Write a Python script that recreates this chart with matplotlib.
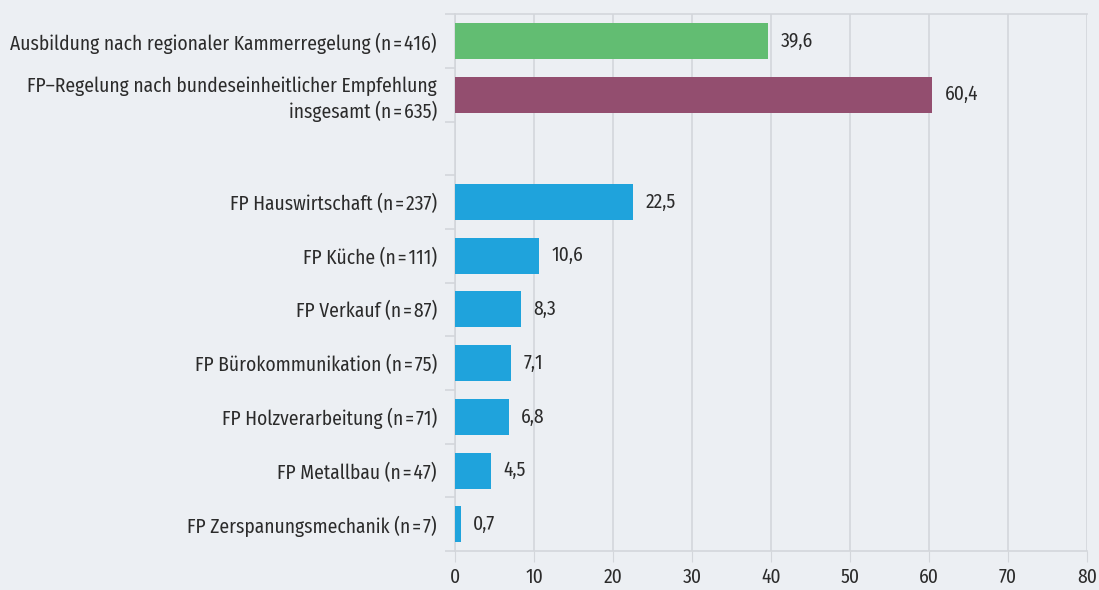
import numpy as np
import matplotlib.pyplot as plt

labels = [
    "Ausbildung nach regionaler Kammerregelung (n\u200a=\u200a416)",
    "FP\u2013Regelung nach bundeseinheitlicher Empfehlung\ninsgesamt (n\u200a=\u200a635)",
    "",
    "FP Hauswirtschaft (n\u200a=\u200a237)",
    "FP Küche (n\u200a=\u200a111)",
    "FP Verkauf (n\u200a=\u200a87)",
    "FP Bürokommunikation (n\u200a=\u200a75)",
    "FP Holzverarbeitung (n\u200a=\u200a71)",
    "FP Metallbau (n\u200a=\u200a47)",
    "FP Zerspanungsmechanik (n\u200a=\u200a7)",
]
values = [39.6, 60.4, None, 22.5, 10.6, 8.3, 7.1, 6.8, 4.5, 0.7]
colors = ["#62bd72", "#934e6f", None] + ["#1fa3dc"] * 7

BG = "#eceff3"
GRID = "#d3d6db"
TXT = "#2b2b2b"
FONT = ["Fira Sans Condensed", "Roboto Condensed", "Roboto", "DejaVu Sans"]
FS = 14

plt.rcParams['font.family'] = FONT

fig = plt.figure(figsize=(10.99, 5.90), dpi=100, facecolor=BG)
ax = fig.add_axes([0.414, 0.066, 0.575, 0.910], facecolor=BG)

for i, (v, c) in enumerate(zip(values, colors)):
    if v is None:
        continue
    ax.barh(i, v, height=0.67, color=c, zorder=3)
    ax.text(v + 1.6, i, ("%.1f" % v).replace(".", ","), va="center", ha="left",
            fontsize=FS, color=TXT)

ax.set_xlim(0, 80)
ax.set_ylim(9.5, -0.5)
ax.set_xticks(np.arange(0, 81, 10))
ax.tick_params(axis="x", length=8, color=GRID, labelsize=FS, labelcolor=TXT, pad=4)
ax.grid(axis="x", color=GRID, linewidth=1.2, zorder=0)

# category labels at centers, boundary ticks between rows
ax.set_yticks(np.arange(10))
ax.set_yticklabels(labels, fontsize=FS, color=TXT, ha="right", linespacing=1.3)
ax.tick_params(axis="y", which="major", length=0, pad=13)
ax.set_yticks(np.arange(-0.5, 10, 1), minor=True)
ax.tick_params(axis="y", which="minor", length=7, color=GRID, width=1.2)

for s in ["left", "bottom", "top"]:
    ax.spines[s].set_color(GRID)
    ax.spines[s].set_linewidth(1.2)
ax.spines["right"].set_visible(False)

fig.savefig("out.png", dpi=100, facecolor=BG)
